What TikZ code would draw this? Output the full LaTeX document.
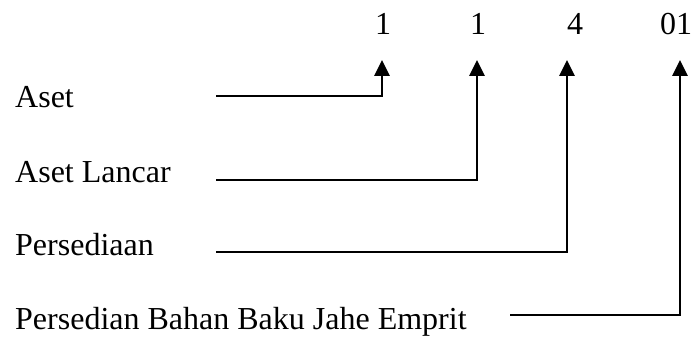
\documentclass[tikz,border=0pt]{standalone}
\usepackage{fontspec}
\setmainfont{Liberation Serif}
\usetikzlibrary{arrows.meta}
\begin{document}
\begin{tikzpicture}[x=1pt,y=1pt,
  label/.style={anchor=base west,inner sep=0pt,font=\fontsize{32}{38}\selectfont},
  digit/.style={anchor=base,inner sep=0pt,font=\fontsize{32}{38}\selectfont},
  conn/.style={line width=2.8pt,-{Triangle[length=16pt,width=15pt]}}]
\useasboundingbox (0,0) rectangle (699,338);
% account code digits
\node[digit] (n1) at (383,303) {1};
\node[digit] (n2) at (478,303) {1};
\node[digit] (n3) at (575,303) {4};
\node[digit] (n4) at (676,303) {01};
% account names
\node[label] (a1) at (15,230) {Aset};
\node[label] (a2) at (15,156) {Aset Lancar};
\node[label] (a3) at (15,83) {Persediaan};
\node[label] (a4) at (15,9) {Persedian Bahan Baku Jahe Emprit};
% line starts and arrow tips
\coordinate (s1) at (216,242);
\coordinate (s2) at (216,158);
\coordinate (s3) at (216,86);
\coordinate (s4) at (510,23);
\coordinate (t1) at (382,278);
\coordinate (t2) at (477,278);
\coordinate (t3) at (567,278);
\coordinate (t4) at (680,278);
% connectors
\draw[conn] (s1) -| (t1);
\draw[conn] (s2) -| (t2);
\draw[conn] (s3) -| (t3);
\draw[conn] (s4) -| (t4);
\end{tikzpicture}
\end{document}
